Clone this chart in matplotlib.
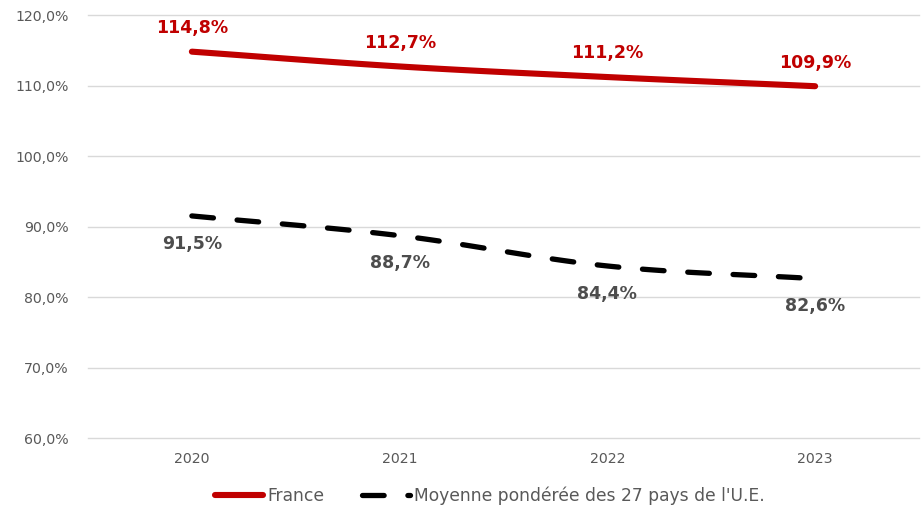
import numpy as np
import matplotlib
matplotlib.use("Agg")
import matplotlib.pyplot as plt
from matplotlib.lines import Line2D

years = ["2020", "2021", "2022", "2023"]
france = [114.8, 112.7, 111.2, 109.9]
ue27 = [91.5, 88.7, 84.4, 82.6]
y_ticks = [60, 70, 80, 90, 100, 110, 120]

RED = "#C00000"
GREY_TXT = "#595959"
LABEL_GREY = "#4D4D4D"
DASHES = (4.1, 4.5)


def smooth(xs, ys, n=40):
    """Catmull-Rom curve passing through every data point."""
    xs = np.asarray(xs, float)
    ys = np.asarray(ys, float)
    px = np.concatenate([[2 * xs[0] - xs[1]], xs, [2 * xs[-1] - xs[-2]]])
    py = np.concatenate([[2 * ys[0] - ys[1]], ys, [2 * ys[-1] - ys[-2]]])
    out_x, out_y = [], []
    for i in range(1, len(px) - 2):
        t = np.linspace(0, 1, n, endpoint=(i == len(px) - 3))
        for arr, out in ((px, out_x), (py, out_y)):
            p0, p1, p2, p3 = arr[i - 1], arr[i], arr[i + 1], arr[i + 2]
            out.extend(0.5 * ((2 * p1) + (-p0 + p2) * t
                              + (2 * p0 - 5 * p1 + 4 * p2 - p3) * t ** 2
                              + (-p0 + 3 * p1 - 3 * p2 + p3) * t ** 3))
    return np.array(out_x), np.array(out_y)


fig = plt.figure(figsize=(9.21, 5.08), dpi=100)
ax = fig.add_axes([88 / 921, 70 / 508, 831 / 921, 423 / 508])

x = np.arange(len(years))

sx, sy = smooth(x, france)
ax.plot(sx, sy, color=RED, lw=4.4, solid_capstyle="round", zorder=3)

ex, ey = smooth(x, ue27)
ax.plot(ex, ey, color="black", lw=3.8, dash_capstyle="round",
        dashes=DASHES, zorder=3)

for xi, v in zip(x, france):
    ax.annotate(f"{v:.1f}%".replace(".", ","), (xi, v), xytext=(0, 17),
                textcoords="offset points", ha="center", va="center",
                color=RED, fontsize=12.5, fontweight="bold")
for xi, v in zip(x, ue27):
    ax.annotate(f"{v:.1f}%".replace(".", ","), (xi, v), xytext=(0, -20),
                textcoords="offset points", ha="center", va="center",
                color=LABEL_GREY, fontsize=12.5, fontweight="bold")

ax.set_xlim(-0.5, len(years) - 0.5)
ax.set_ylim(60, 120)
ax.set_xticks(x)
ax.set_xticklabels(years)
ax.set_yticks(y_ticks)
ax.set_yticklabels([f"{t:.1f}%".replace(".", ",") for t in y_ticks])
ax.tick_params(axis="both", length=0, colors=GREY_TXT, labelsize=10.2)
ax.tick_params(axis="x", pad=10)
ax.tick_params(axis="y", pad=14)
ax.grid(axis="y", color="#D9D9D9", lw=1.0)
for gl in ax.get_ygridlines():
    gl.set_clip_on(False)
ax.set_axisbelow(True)
for s in ax.spines.values():
    s.set_visible(False)

handles = [
    Line2D([], [], color=RED, lw=4.4, solid_capstyle="round"),
    Line2D([], [], color="black", lw=3.8, dash_capstyle="round",
           dashes=DASHES),
]
fig.legend(handles, ["France", "Moyenne pondérée des 27 pays de l'U.E."],
           loc="center", bbox_to_anchor=(490 / 921, 1 - 496 / 508), ncol=2,
           frameon=False, fontsize=12.3, labelcolor=GREY_TXT,
           handlelength=2.8, handletextpad=0.25, columnspacing=2.2)

fig.savefig("out.png", dpi=100)
